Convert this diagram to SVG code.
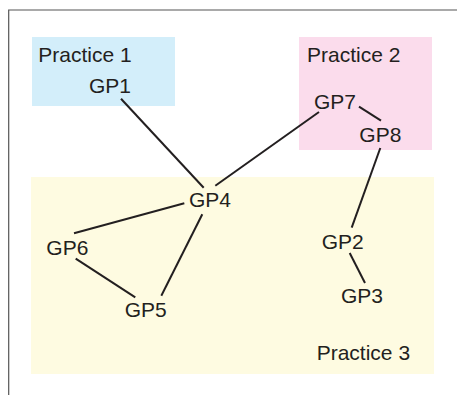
<svg xmlns="http://www.w3.org/2000/svg" width="457" height="395" viewBox="0 0 457 395">
<style>
text{font-family:"Liberation Sans",Arial,sans-serif;font-size:21px;fill:#231f20}
.e{stroke:#231f20;stroke-width:2;stroke-linecap:butt;fill:none}
</style>
<rect x="0" y="0" width="457" height="395" fill="#fff"/>
<path d="M8.7,395 V10 H457" fill="none" stroke="#555" stroke-width="1.2"/>
<g id="practice1"><rect x="32" y="37" width="143" height="69" fill="#d3eefa"/><text x="38.3" y="61.7">Practice 1</text></g>
<g id="practice2"><rect x="299" y="37" width="133" height="113" fill="#fbdcec"/><text x="307" y="61.7">Practice 2</text></g>
<g id="practice3"><rect x="31" y="177" width="403" height="197" fill="#fefbe1"/><text x="316.7" y="360.3">Practice 3</text></g>
<g id="connectors">
<line class="e" x1="121" y1="98.7" x2="203.7" y2="187.7"/>
<line class="e" x1="319" y1="112" x2="215.3" y2="185.7"/>
<line class="e" x1="359" y1="106.7" x2="381" y2="120.7"/>
<line class="e" x1="380.3" y1="148" x2="351.7" y2="227.7"/>
<line class="e" x1="184.3" y1="203.3" x2="74" y2="233.3"/>
<line class="e" x1="202.3" y1="214.3" x2="161.3" y2="295.7"/>
<line class="e" x1="75.7" y1="258.7" x2="135.3" y2="297.3"/>
<line class="e" x1="349.7" y1="253" x2="365" y2="283"/>
</g>
<g id="GP1"><text x="89" y="92.7">GP1</text></g>
<g id="GP7"><text x="314" y="109">GP7</text></g>
<g id="GP8"><text x="359.3" y="142">GP8</text></g>
<g id="GP4"><text x="189" y="207.3">GP4</text></g>
<g id="GP6"><text x="46.3" y="255">GP6</text></g>
<g id="GP5"><text x="124.7" y="316.7">GP5</text></g>
<g id="GP2"><text x="321.7" y="249">GP2</text></g>
<g id="GP3"><text x="341" y="303.3">GP3</text></g>
</svg>
